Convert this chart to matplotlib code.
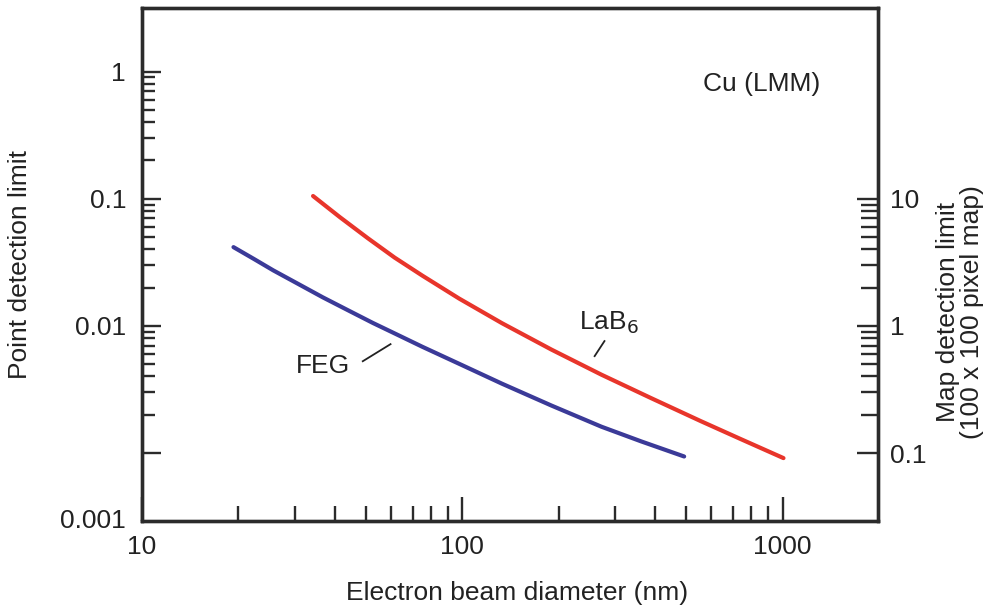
import numpy as np
import matplotlib
matplotlib.use("Agg")
import matplotlib.pyplot as plt
from matplotlib.ticker import FixedLocator, NullFormatter

plt.rcParams['font.family'] = ['Liberation Sans', 'DejaVu Sans']

# beam diameter (nm) vs point detection limit
feg_d = [19.3, 22.3, 25.7, 30.7, 36.7, 43.9, 52.5, 62.8, 75.1, 100, 133, 190, 272, 362, 493]
feg_lim = [0.0416, 0.0337, 0.0273, 0.0214, 0.01675, 0.01329, 0.01056, 0.0085,
           0.00684, 0.0049, 0.00351, 0.00236, 0.00161, 0.001234, 0.000939]

lab6_d = [34.2, 41.5, 50.7, 61.5, 75.1, 97.9, 133, 190, 272, 389, 556, 741, 1007]
lab6_lim = [0.105, 0.0715, 0.0489, 0.0344, 0.0248, 0.01636, 0.0105, 0.0065,
            0.00413, 0.0027, 0.00178, 0.001286, 0.000912]

# map limit = point limit * 100 (100 x 100 pixel map)
map_factor = 100.0

x_major = [10, 100, 1000]
x_major_labels = ['10', '100', '1000']
y_major = [1, 0.1, 0.01, 0.001]
y_major_labels = ['1', '0.1', '0.01', '']
y2_major = [10, 1, 0.1]
y2_major_labels = ['10', '1', '0.1']

xlim = (10, 1987)
ylim = (0.000292, 3.16)

ink = '#2b2b2b'
txt = '#222222'
fs = 19

fig = plt.figure(figsize=(9.94, 6.07), dpi=100)
ax = fig.add_axes([0.1429, 0.1417, 0.7404, 0.8451])

ax.plot(feg_d, feg_lim, color='#3b3a98', lw=3.0, solid_capstyle='round',
        solid_joinstyle='round')
ax.plot(lab6_d, lab6_lim, color='#e8352b', lw=3.0, solid_capstyle='round',
        solid_joinstyle='round')

ax.set_xscale('log')
ax.set_yscale('log')
ax.set_xlim(*xlim)
ax.set_ylim(*ylim)

# ticks
x_minor = [k * 10**e for e in (1, 2) for k in range(2, 10)]
y_minor = [k * 10.0**e for e in (-3, -2, -1) for k in range(2, 10)]
ax.xaxis.set_major_locator(FixedLocator(x_major))
ax.set_xticklabels(x_major_labels)
ax.xaxis.set_minor_locator(FixedLocator(x_minor))
ax.xaxis.set_minor_formatter(NullFormatter())
ax.yaxis.set_major_locator(FixedLocator(y_major))
ax.set_yticklabels(y_major_labels)
ax.yaxis.set_minor_locator(FixedLocator(y_minor))
ax.yaxis.set_minor_formatter(NullFormatter())

ax.tick_params(axis='x', which='major', direction='in', length=17, width=1.7,
               pad=10, labelsize=fs, color=ink, labelcolor=txt)
ax.tick_params(axis='x', which='minor', direction='in', length=11, width=1.7, color=ink)
ax.tick_params(axis='y', which='major', direction='in', length=14, width=1.7,
               pad=11.5, labelsize=fs, color=ink, labelcolor=txt)
ax.tick_params(axis='y', which='minor', direction='in', length=9.5, width=1.7, color=ink)

# bottom-left corner label
ax.annotate('0.001', xy=(0, ylim[0]), xycoords=('axes fraction', 'data'),
            xytext=(-11.5, 0), textcoords='offset points', ha='right', va='center',
            fontsize=fs, color=txt)

for s in ax.spines.values():
    s.set_linewidth(2.4)
    s.set_color(ink)

# right axis: map detection limit
ax2 = ax.twinx()
ax2.set_yscale('log')
ax2.set_ylim(ylim[0] * map_factor, ylim[1] * map_factor)
y2_minor = [k * 10.0**e for e in (-1, 0) for k in range(2, 10)]
ax2.yaxis.set_major_locator(FixedLocator(y2_major))
ax2.set_yticklabels(y2_major_labels)
ax2.yaxis.set_minor_locator(FixedLocator(y2_minor))
ax2.yaxis.set_minor_formatter(NullFormatter())
ax2.tick_params(axis='y', which='major', direction='in', length=15, width=1.7,
                pad=8.5, labelsize=fs, color=ink, labelcolor=txt)
ax2.tick_params(axis='y', which='minor', direction='in', length=12, width=1.7, color=ink)
for s in ax2.spines.values():
    s.set_linewidth(2.4)
    s.set_color(ink)

ax.set_xlabel('Electron beam diameter (nm)', fontsize=fs, color=txt)
ax.xaxis.set_label_coords(0.51, -0.117)
ax.set_ylabel('Point detection limit', fontsize=fs, color=txt, va='center')
ax.yaxis.set_label_coords(-0.166, 0.5)
ax2.set_ylabel('Map detection limit\n(100 x 100 pixel map)', fontsize=fs,
               color=txt, linespacing=1.0, va='center')
ax2.yaxis.set_label_coords(1.111, 0.407)

# curve labels with leader lines
ax.text(36.7, 0.00482, 'FEG', fontsize=fs, ha='center', va='center', color=txt)
ax.plot([48.9, 59.7], [0.00527, 0.00718], color=txt, lw=1.3)
ax.text(286, 0.0105, 'LaB$_6$', fontsize=fs, ha='center', va='center', color=txt)
ax.plot([259, 278], [0.00578, 0.00759], color=txt, lw=1.3)

ax.text(0.842, 0.852, 'Cu (LMM)', transform=ax.transAxes, fontsize=fs,
        ha='center', va='center', color=txt)

fig.savefig('out.png', dpi=100)
